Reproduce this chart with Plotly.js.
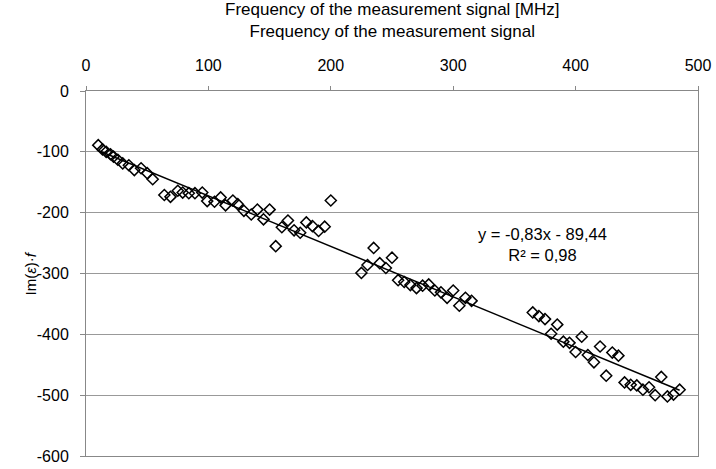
<!DOCTYPE html>
<html>
<head>
<meta charset="utf-8">
<script src="https://cdn.plot.ly/plotly-3.0.1.min.js"></script>
<style>html,body{margin:0;padding:0;background:#fff;}#chart{width:716px;height:469px;}</style>
</head>
<body>
<div id="chart"></div>
<script>
// Frequency of the measurement signal [MHz]
const freq = [10,13.5,16.5,20,22.5,26,30,35,39.5,45,50,54.5,
  64,69,75,79,84,89,95,99,105,110,114,120,124,129,135,140,145,150,155,160,165,170,175,180,185,190,195,200,
  225,230,235,240,245,250,255,260,265,270,275,280,285,290,295,300,305,310,315,
  365,370,375,380,385,390,395,400,405,410,415,420,425,430,435,440,445,450,455,460,465,470,475,480,485];
// Im(eps)*f
const imEpsF = [-89,-96,-100,-104,-108,-113,-119,-122,-130,-127,-135,-145,
  -171,-174,-164,-167,-168,-168,-167,-181,-182,-175,-188,-180,-186,-197,-203,-195,-211,-195,-255,-224,-213,-229,-233,-216,-222,-230,-223,-180,
  -299,-286,-258,-283,-291,-274,-311,-314,-319,-324,-320,-318,-328,-331,-340,-328,-353,-340,-345,
  -364,-370,-375,-399,-384,-412,-414,-429,-404,-434,-446,-420,-468,-430,-435,-479,-483,-484,-491,-487,-500,-470,-502,-499,-491];
// Linear trendline reported on the chart
const trendSlope = -0.83;
const trendIntercept = -89.44;
const trendLabel = ['y = -0,83x - 89,44', 'R² = 0,98'];
const titleLines = ['Frequency of the measurement signal [MHz]', 'Frequency of the measurement signal'];
const yTitle = 'Im(<i>ε</i>)·<i>f</i>';
const xTickVals = [0,100,200,300,400,500];
const xTickText = ['0','100','200','300','400','500'];
const yTickVals = [0,-100,-200,-300,-400,-500,-600];
const yTickText = ['0','-100','-200','-300','-400','-500','-600'];

const xMin = Math.min(...freq), xMax = Math.max(...freq);
const trendX = [xMin, xMax];
const trendY = trendX.map(v => trendSlope * v + trendIntercept);

const fam = 'Liberation Sans, Arial, sans-serif';
const font = {family: fam, size: 16, color: '#000'};

const data = [
  {x: freq, y: imEpsF, type: 'scatter', mode: 'markers',
   marker: {symbol: 'diamond-open', size: 8.5, color: '#000', line: {width: 1.5, color: '#000'}},
   hoverinfo: 'x+y', showlegend: false},
  {x: trendX, y: trendY, type: 'scatter', mode: 'lines',
   line: {color: '#000', width: 1.5}, hoverinfo: 'skip', showlegend: false}
];

const layout = {
  width: 716, height: 469,
  margin: {l: 86, r: 18, t: 91, b: 13},
  paper_bgcolor: '#fff', plot_bgcolor: '#fff',
  font: font,
  xaxis: {side: 'top', range: [0, 500], tickvals: xTickVals, ticktext: xTickText, ticks: 'outside', ticklen: 4,
    tickcolor: '#888', showgrid: false, zeroline: false, showline: true, linecolor: '#888', linewidth: 1,
    mirror: true, ticklabelstandoff: 9, tickfont: font},
  yaxis: {range: [-600, 0], tickvals: yTickVals, ticktext: yTickText, ticks: 'outside', ticklen: 5, tickcolor: '#888',
    showgrid: true, gridcolor: '#999', gridwidth: 1, zeroline: false, showline: true, linecolor: '#888',
    linewidth: 1, mirror: true, ticklabelstandoff: 8, tickfont: font},
  annotations: [
    {x: 373, y: -253, xref: 'x', yref: 'y', text: trendLabel.join('<br>'), showarrow: false,
     align: 'center', font: {family: fam, size: 16.5, color: '#000'}},
    {x: 0.5, y: 1, xref: 'paper', yref: 'paper', yanchor: 'middle', yshift: 71, text: titleLines.join('<br>'),
     showarrow: false, align: 'center', font: {family: fam, size: 17, color: '#000'}},
    {x: 0, y: 0.5, xref: 'paper', yref: 'paper', xanchor: 'center', yanchor: 'middle', xshift: -56,
     textangle: -90, text: yTitle, showarrow: false, font: {family: fam, size: 15, color: '#000'}}
  ]
};

Plotly.newPlot('chart', data, layout, {staticPlot: true, displayModeBar: false});
</script>
</body>
</html>
